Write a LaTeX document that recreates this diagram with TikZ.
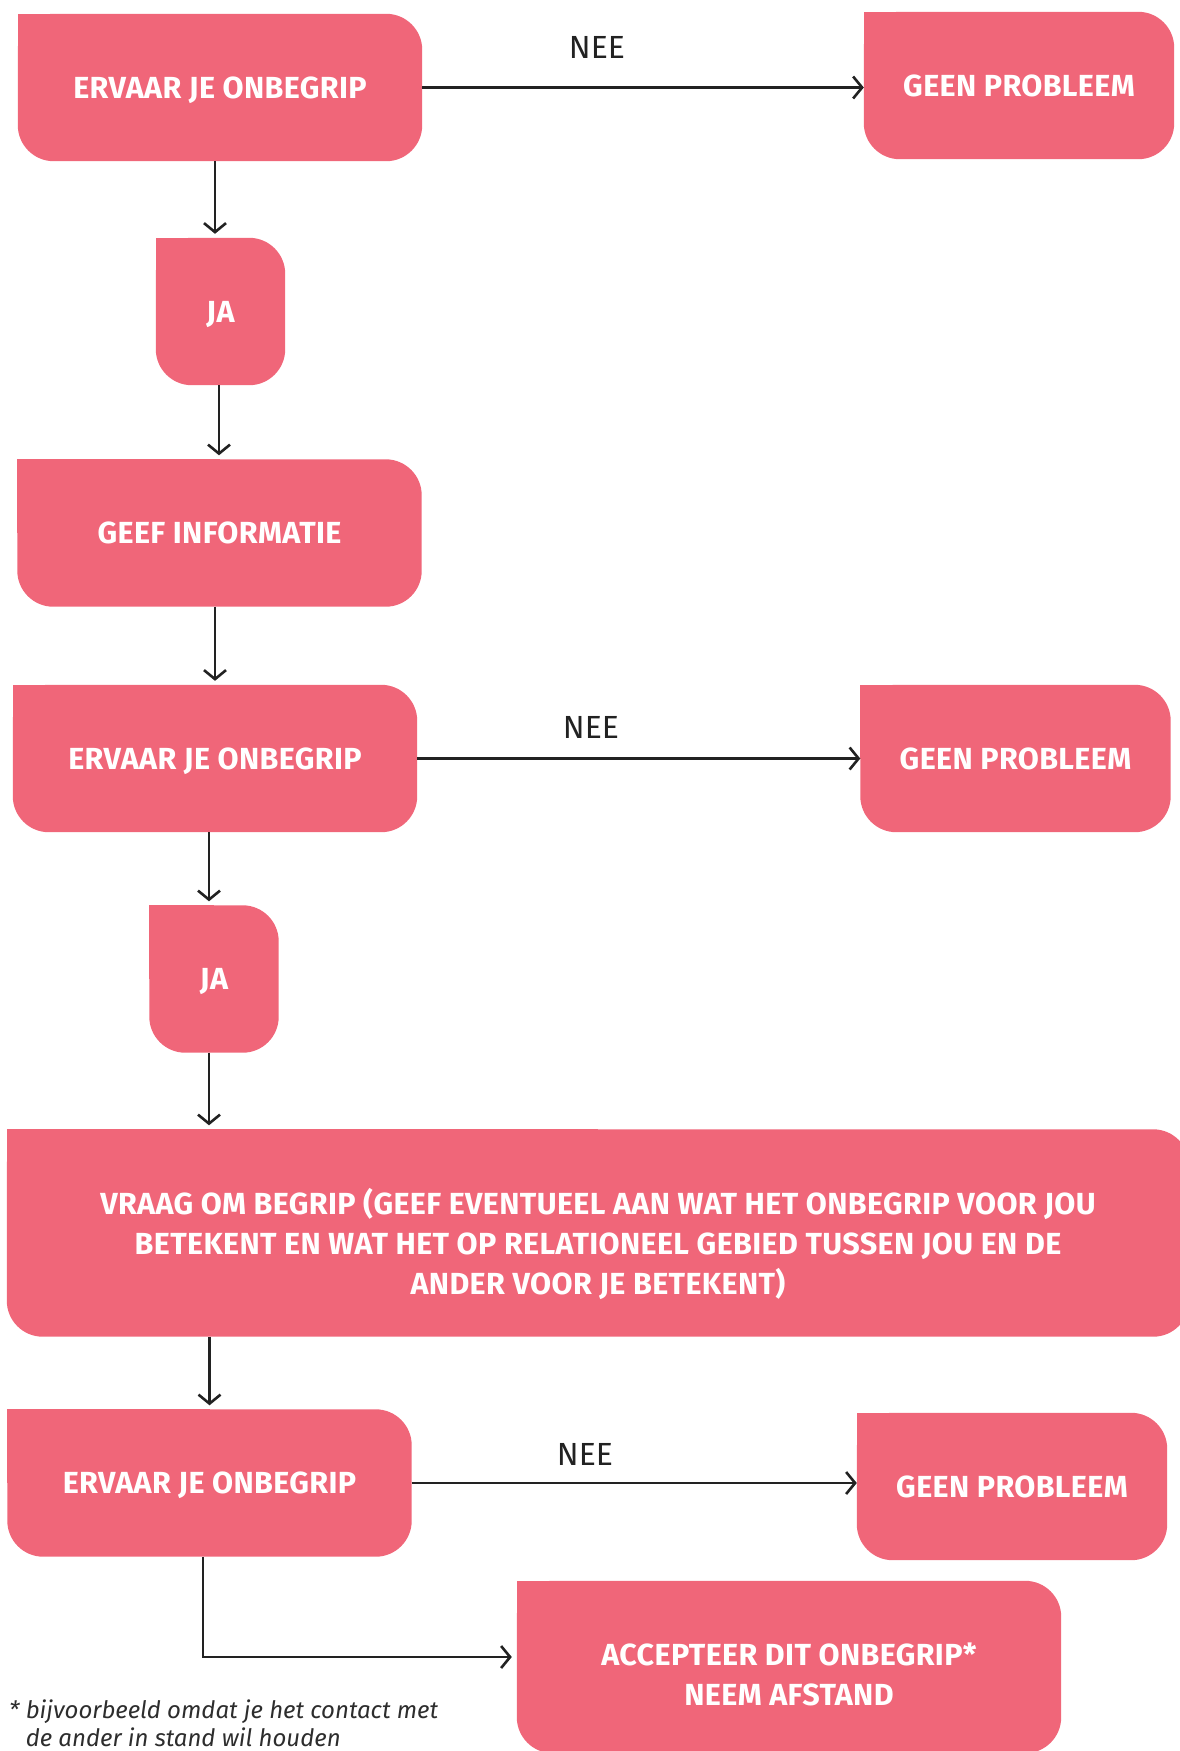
\documentclass[tikz,border=0pt]{standalone}
\usepackage{fontspec}
\setmainfont{Fira Sans}
\newfontfamily\spacedfam{Fira Sans}[LetterSpace=1.2]
\usetikzlibrary{arrows.meta,backgrounds}

\definecolor{boxpink}{RGB}{240,102,121}
\definecolor{linec}{RGB}{34,34,34}
\definecolor{notec}{RGB}{45,45,45}

\newcommand{\boxfont}{\spacedfam\bfseries\fontsize{30.5}{40}\selectfont}
\newcommand{\labfont}{\fontsize{32}{38}\selectfont}
\newcommand{\notefont}{\itshape\fontsize{24}{28}\selectfont}

\tikzset{
  x=1pt, y=-1pt,
  stepbox/.style={rectangle, inner sep=0pt, text=white, font=\boxfont, align=center, text depth=0pt},
  wide/.style={stepbox, minimum width=404pt, minimum height=147pt},
  ok/.style={stepbox, minimum width=310pt, minimum height=147pt},
  yes/.style={stepbox, minimum width=129pt, minimum height=147pt},
  boxtext/.style={text=white, font=\boxfont, align=center, inner sep=0pt},
  nee/.style={text=linec, font=\labfont, inner sep=0pt},
  arr/.style={draw=linec, line width=2.6pt, -{Straight Barb[length=9pt,width=22pt]}},
}

\begin{document}
\begin{tikzpicture}
\useasboundingbox (0,0) rectangle (1180,1751);

% first question
\node[wide] (e1) at (220,87.5) {ERVAAR JE ONBEGRIP};
\node[ok]   (g1) at (1019,85.5) {GEEN PROBLEEM};
\node[yes]  (ja1) at (220.5,311.5) {JA};
\node[wide] (info) at (219.5,533) {GEEF INFORMATIE};

% second question
\node[wide] (e2) at (215,758.5) {ERVAAR JE ONBEGRIP};
\node[ok]   (g2) at (1015.5,758.5) {GEEN PROBLEEM};
\node[yes]  (ja2) at (214,979) {JA};

% request for understanding
\node[stepbox, minimum width=1182pt, minimum height=207pt] (big) at (598,1233) {};
\node[boxtext] (bigtext) at (598,1244) {VRAAG OM BEGRIP (GEEF EVENTUEEL AAN WAT HET ONBEGRIP VOOR JOU\\
BETEKENT EN WAT HET OP RELATIONEEL GEBIED TUSSEN JOU EN DE\\
ANDER VOOR JE BETEKENT)};

% third question
\node[wide] (e3) at (209.5,1483) {ERVAAR JE ONBEGRIP};
\node[ok]   (g3) at (1012,1486.5) {GEEN PROBLEEM};
\node[stepbox, minimum width=544pt, minimum height=172pt] (acc) at (789,1667) {};
\node[boxtext] (acctext) at (789,1674.5) {ACCEPTEER DIT ONBEGRIP*\\NEEM AFSTAND};

% box fills: three rounded corners, square top-left corner
\begin{scope}[on background layer]
\foreach \n in {e1,g1,ja1,info,e2,g2,ja2,big,e3,g3,acc}{
  \fill[boxpink, rounded corners=36pt] (\n.south west) rectangle (\n.north east);
  \fill[boxpink] (\n.north west) rectangle (\n.center);
}
\end{scope}

% NEE labels
\node[nee] (n1) at (597,47) {NEE};
\node[nee] (n2) at (591,727) {NEE};
\node[nee] (n3) at (585,1454) {NEE};

% connectors
\draw[arr] (e1.east) -- (e1.east -| g1.west);
\draw[arr] (e2.east) -- (e2.east -| g2.west);
\draw[arr] (e3.east) -- (e3.east -| g3.west);

\draw[arr, shorten >=4pt] ([xshift=-5pt]e1.south) -- ([xshift=-5pt]e1.south |- ja1.north);
\draw[arr, shorten >=4pt] ([xshift=-1.5pt]ja1.south) -- ([xshift=-1.5pt]ja1.south |- info.north);
\draw[arr, shorten >=4pt] (info.south -| e2.north) -- (e2.north);
\draw[arr, shorten >=4pt] ([xshift=-5pt]ja2.north |- e2.south) -- ([xshift=-5pt]ja2.north);
\draw[arr, shorten >=4pt] ([xshift=-5pt]ja2.south) -- ([xshift=-5pt]ja2.south |- big.north);
\draw[arr, shorten >=4pt] (e3.north |- big.south) -- (e3.north);
\draw[arr, shorten >=5pt] ([xshift=-6.5pt]e3.south) |- ([yshift=10pt]acc.west);

% footnote (anchored on the baseline of its last line)
\node[anchor=base west, text=notec, font=\notefont, align=left, inner sep=0pt] (note) at (9,1746)
  {* bijvoorbeeld omdat je het contact met\\\phantom{* }de ander in stand wil houden};
\end{tikzpicture}
\end{document}
